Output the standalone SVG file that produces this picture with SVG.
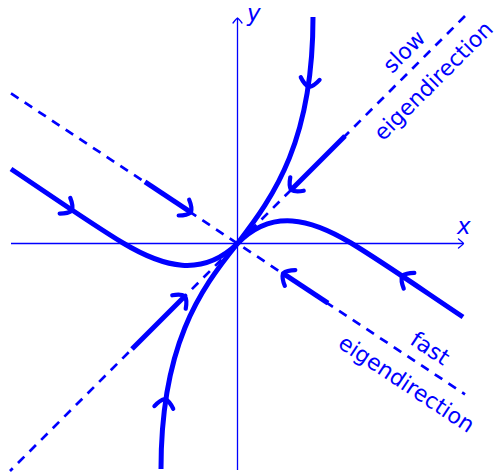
<svg xmlns="http://www.w3.org/2000/svg" width="498" height="472" viewBox="0 0 498 472">
<style>
.ax{stroke:#00f;stroke-width:1.3;fill:none}
.axh{stroke:#00f;stroke-width:1.3;fill:none;stroke-linecap:round;stroke-linejoin:round}
.dash{stroke:#00f;stroke-width:2.7;fill:none;stroke-dasharray:9 7.4}
.thick{stroke:#00f;stroke-width:5;fill:none}
.ah{stroke:#00f;stroke-width:4.2;fill:none;stroke-linecap:round;stroke-linejoin:round}
.lbl{font-family:"DejaVu Sans",sans-serif;font-size:22px;fill:#00f;text-anchor:middle}
.var{font-family:"DejaVu Sans",sans-serif;font-style:oblique;font-size:23px;fill:#00f}
</style>
<defs>
<path id="ah" d="M-8.5,-9.5 Q-1.5,-4.8 0,0 Q-1.5,4.8 -8.5,9.5"/>
<path id="axh" d="M-5,-4.5 Q-1,-1.5 0,0 Q-1,1.5 -5,4.5"/>
</defs>
<g id="axes">
<line class="ax" x1="11" y1="243.5" x2="463.5" y2="243.5"/>
<line class="ax" x1="237.5" y1="470" x2="237.5" y2="18"/>
<use href="#axh" class="axh" transform="translate(463.5,243.5)"/>
<use href="#axh" class="axh" transform="translate(237.5,18) rotate(-90)"/>
<text class="var" x="457" y="234">x</text>
<text class="var" x="247" y="21">y</text>
</g>
<g id="connectors">
<g id="slow-eigendirection">
<path class="dash" d="M465,16 L10,471"/>
<path class="thick" d="M345,136 L291,190"/>
<use href="#ah" class="ah" transform="translate(291,190) rotate(135)"/>
<path class="thick" d="M132,349 L185,296"/>
<use href="#ah" class="ah" transform="translate(185,296) rotate(-45)"/>
</g>
<g id="fast-eigendirection">
<path class="dash" d="M11,93.4 L465,394.3"/>
<path class="thick" d="M145,181.8 L191,212.3"/>
<use href="#ah" class="ah" transform="translate(191,212.3) rotate(33.55)"/>
<path class="thick" d="M328,303.2 L283,273.3"/>
<use href="#ah" class="ah" transform="translate(283,273.3) rotate(213.55)"/>
</g>
<g id="trajectory-a">
<path class="thick" d="M313,17 C313,140 275,195 237.5,243.5"/>
<use href="#ah" class="ah" transform="translate(309,87) rotate(98)"/>
</g>
<g id="trajectory-b">
<path class="thick" d="M161,469 C161,346 199,291 237.5,243.5"/>
<use href="#ah" class="ah" transform="translate(165,399) rotate(-82)"/>
</g>
<g id="trajectory-c">
<path class="thick" d="M11,169 C50,195 90,223 123,243 C163,267 202,278 237.5,243.5"/>
<use href="#ah" class="ah" transform="translate(72,210.5) rotate(34)"/>
</g>
<g id="trajectory-d">
<path class="thick" d="M463,317 C424,291 384,263 351,243 C311,219 272,208 237.5,243.5"/>
<use href="#ah" class="ah" transform="translate(402,276) rotate(214)"/>
</g>
</g>
<g id="label-slow" transform="translate(237.5,243.5) rotate(-45)">
<text class="lbl" x="253.5" y="-10.5">slow</text>
<text class="lbl" x="253.5" y="31">eigendirection</text>
</g>
<g id="label-fast" transform="translate(237.5,243.5) rotate(33.55)">
<text class="lbl" x="218.4" y="-11.5">fast</text>
<text class="lbl" x="218.4" y="31">eigendirection</text>
</g>
</svg>
